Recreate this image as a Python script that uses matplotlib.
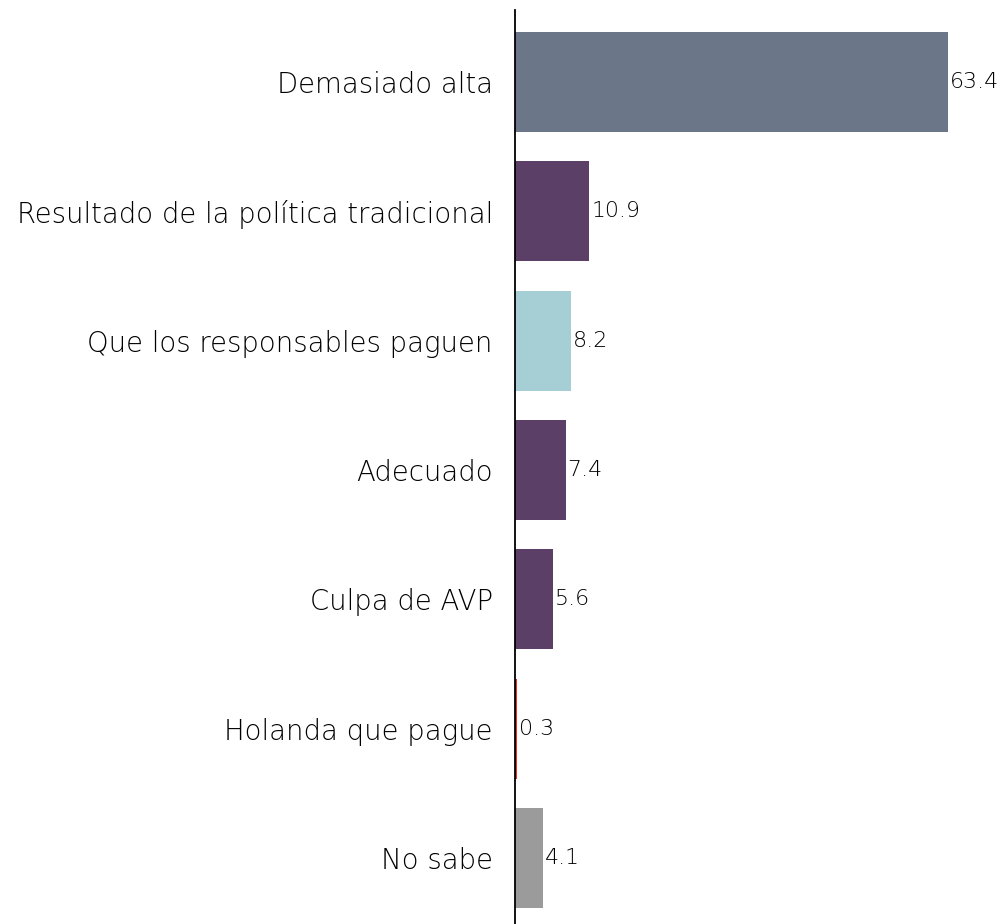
import matplotlib
matplotlib.use("Agg")
import matplotlib.pyplot as plt

categories = ["Demasiado alta", "Resultado de la política tradicional", "Que los responsables paguen",
              "Adecuado", "Culpa de AVP", "Holanda que pague", "No sabe"]
values = [63.4, 10.9, 8.2, 7.4, 5.6, 0.3, 4.1]
colors = ["#6b7788", "#5b3f66", "#a5cfd4", "#5b3f66", "#5b3f66", "#e8302a", "#9b9b9b"]

plt.rcParams['font.family'] = ['DejaVu Sans']

fig = plt.figure(figsize=(10.04, 9.24), dpi=100)
ax = fig.add_axes([515/1004, 0, 1 - 515/1004, 1 - 10/924])
y = list(range(len(categories)))
ax.barh(y, values, height=0.773, color=colors)
ax.set_ylim(6.51, -0.557)
ax.set_xlim(0, 71.6)
for yi, v in zip(y, values):
    ax.text(v + 0.3, yi, f"{v}", va="center", ha="left", fontsize=15.8, weight="light", color="#000000")
ax.set_yticks(y)
ax.set_yticklabels(categories, fontsize=19.8, weight="light", color="#000000")
ax.tick_params(axis="y", length=0, pad=16)
ax.set_xticks([])
for s in ["top", "right", "bottom"]:
    ax.spines[s].set_visible(False)
ax.spines["left"].set_linewidth(1.3)
ax.spines["left"].set_color("black")
fig.savefig("out.png", dpi=100)
